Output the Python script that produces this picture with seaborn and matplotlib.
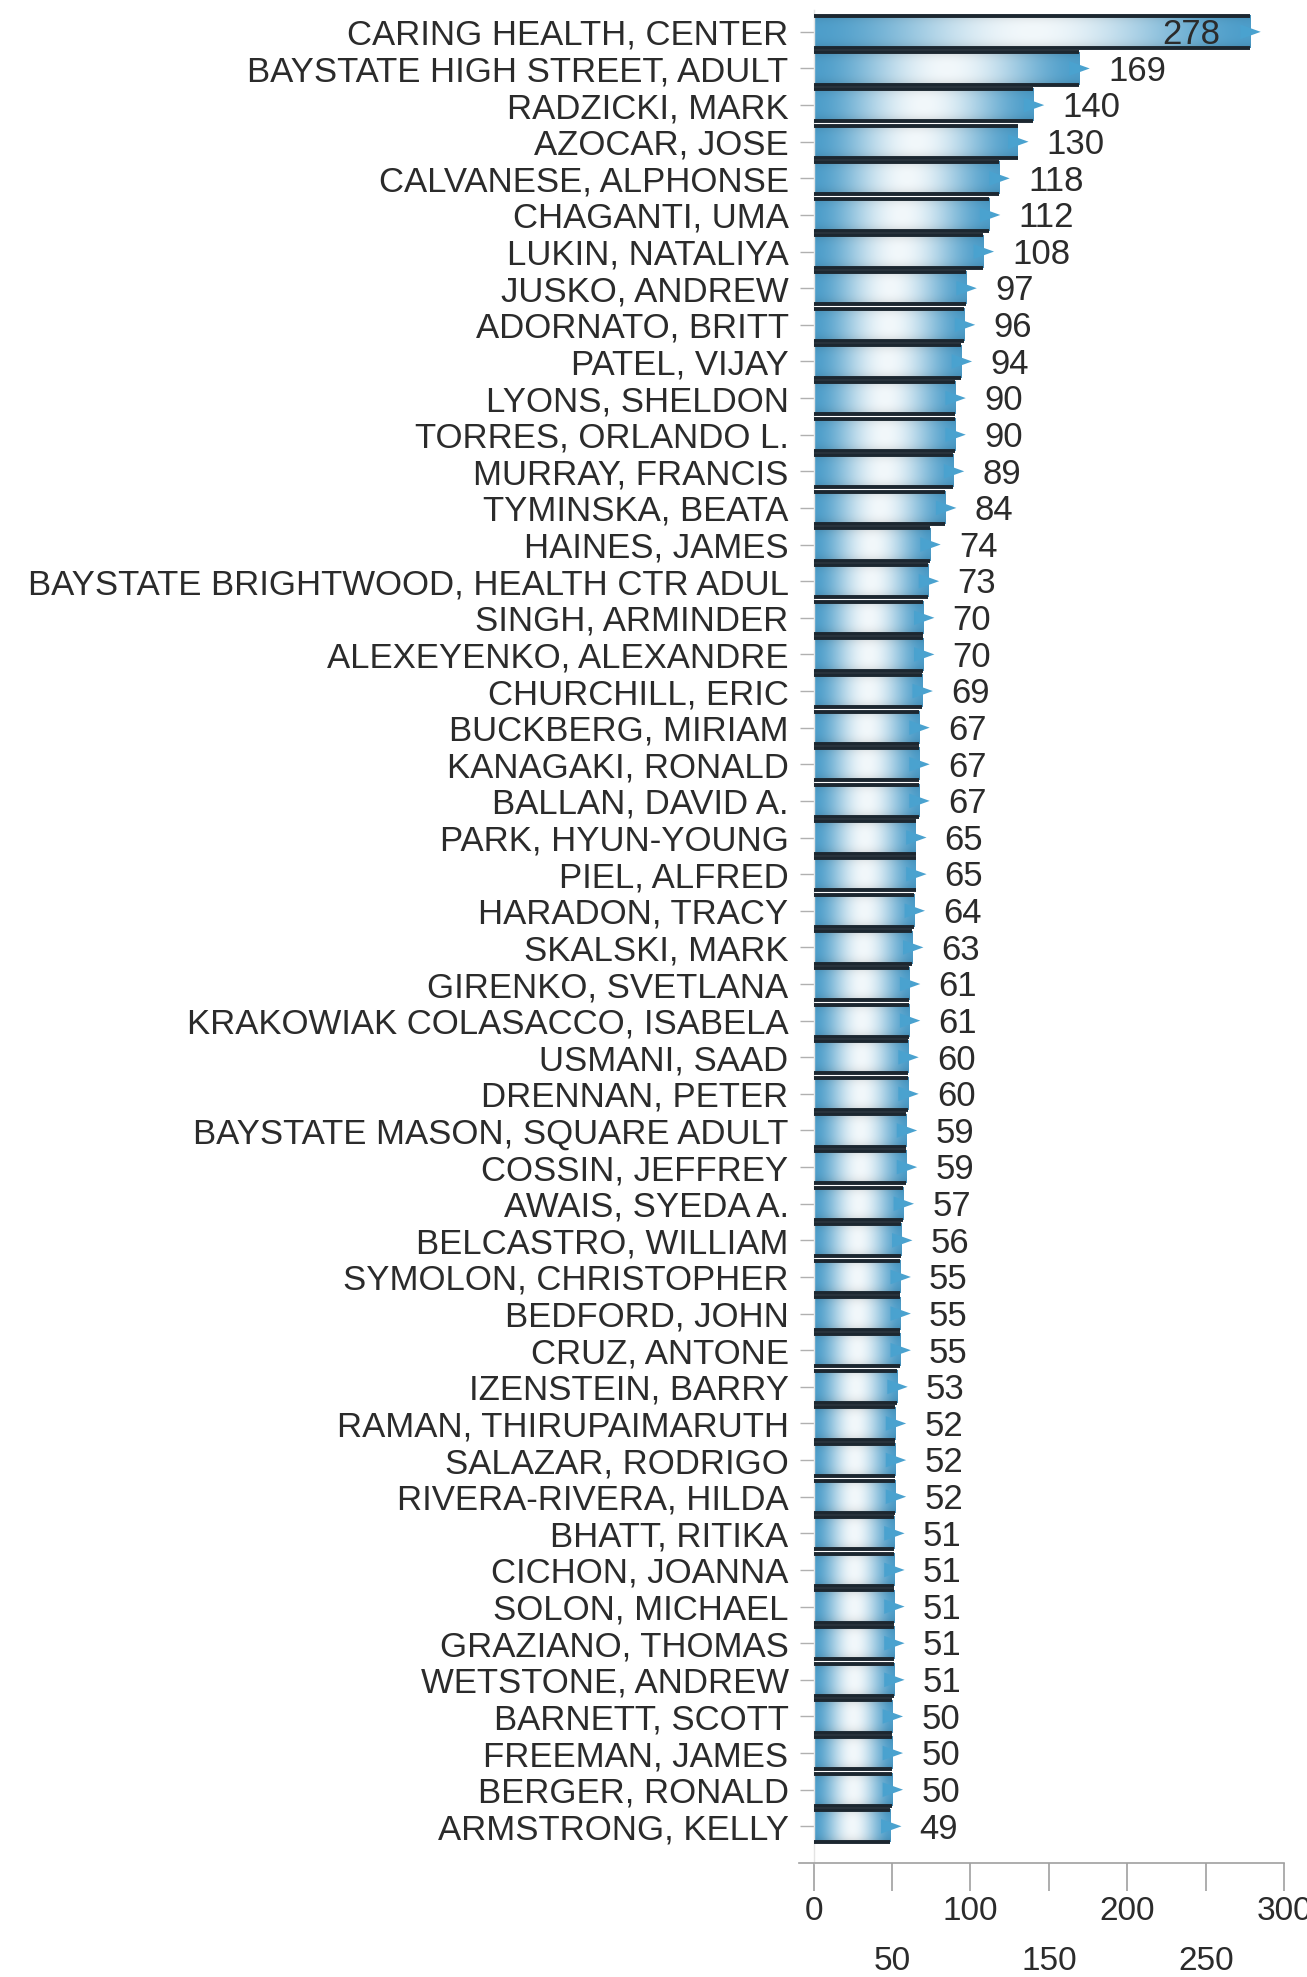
import numpy as np
import pandas as pd
import matplotlib
matplotlib.use("Agg")
import matplotlib.pyplot as plt
from matplotlib.patches import Polygon
import seaborn as sns

providers = [
    "CARING HEALTH, CENTER", "BAYSTATE HIGH STREET, ADULT", "RADZICKI, MARK",
    "AZOCAR, JOSE", "CALVANESE, ALPHONSE", "CHAGANTI, UMA", "LUKIN, NATALIYA",
    "JUSKO, ANDREW", "ADORNATO, BRITT", "PATEL, VIJAY", "LYONS, SHELDON",
    "TORRES, ORLANDO L.", "MURRAY, FRANCIS", "TYMINSKA, BEATA", "HAINES, JAMES",
    "BAYSTATE BRIGHTWOOD, HEALTH CTR ADUL", "SINGH, ARMINDER",
    "ALEXEYENKO, ALEXANDRE", "CHURCHILL, ERIC", "BUCKBERG, MIRIAM",
    "KANAGAKI, RONALD", "BALLAN, DAVID A.", "PARK, HYUN-YOUNG", "PIEL, ALFRED",
    "HARADON, TRACY", "SKALSKI, MARK", "GIRENKO, SVETLANA",
    "KRAKOWIAK COLASACCO, ISABELA", "USMANI, SAAD", "DRENNAN, PETER",
    "BAYSTATE MASON, SQUARE ADULT", "COSSIN, JEFFREY", "AWAIS, SYEDA A.",
    "BELCASTRO, WILLIAM", "SYMOLON, CHRISTOPHER", "BEDFORD, JOHN",
    "CRUZ, ANTONE", "IZENSTEIN, BARRY", "RAMAN, THIRUPAIMARUTH",
    "SALAZAR, RODRIGO", "RIVERA-RIVERA, HILDA", "BHATT, RITIKA",
    "CICHON, JOANNA", "SOLON, MICHAEL", "GRAZIANO, THOMAS", "WETSTONE, ANDREW",
    "BARNETT, SCOTT", "FREEMAN, JAMES", "BERGER, RONALD", "ARMSTRONG, KELLY",
]
visits = [
    278, 169, 140, 130, 118, 112, 108, 97, 96, 94, 90, 90, 89, 84, 74, 73, 70,
    70, 69, 67, 67, 67, 65, 65, 64, 63, 61, 61, 60, 60, 59, 59, 57, 56, 55, 55,
    55, 53, 52, 52, 52, 51, 51, 51, 51, 51, 50, 50, 50, 49,
]
x_ticks = [0, 50, 100, 150, 200, 250, 300]

sns.set_theme(style="white")
plt.rcParams["font.family"] = ["Liberation Sans", "DejaVu Sans"]

TEXT = "#2b2b2b"
FS = 25

fig = plt.figure(figsize=(13.07, 19.77), dpi=100)
ax = fig.add_axes([0.6225, 0.0577, 0.3601, 0.9373])

df = pd.DataFrame({"provider": providers, "visits": visits})
sns.barplot(data=df, y="provider", x="visits", orient="h", width=0.88,
            color="white", edgecolor="none", linewidth=0, ax=ax)

# cylinder-like shading: blue at both ends, pale in the middle
blue = np.array([78, 158, 202]) / 255
pale = np.array([242, 248, 251]) / 255
t = np.linspace(0, 1, 200)
wh = np.sin(np.pi * t) ** 1.8
v = np.linspace(-1, 1, 40)
shade = 1 - 0.12 * np.abs(v) ** 3
grad = (blue[None, None, :] * (1 - wh)[None, :, None]
        + pale[None, None, :] * wh[None, :, None]) * shade[:, None, None]
grad = np.clip(grad, 0, 1)

xmax = x_ticks[-1]
for patch, val in zip(ax.patches, visits):
    x0, y0 = patch.get_x(), patch.get_y()
    w, h = patch.get_width(), patch.get_height()
    yc = y0 + h / 2
    ax.imshow(grad, extent=[x0, x0 + w, y0 + h, y0], aspect="auto",
              interpolation="bilinear", zorder=2)
    ax.hlines([y0, y0 + h], x0, x0 + w, colors="#1c2730", linewidth=2.8,
              zorder=3)
    ax.add_patch(Polygon([[x0 + w - 6, yc - 0.2], [x0 + w + 7, yc],
                          [x0 + w - 6, yc + 0.2]], closed=True,
                         facecolor="#4aa2cf", edgecolor="none", zorder=4))
    if val + 30 > xmax:
        ax.annotate(f"{val}", xy=(x0 + w, yc), xytext=(-21, -2),
                    textcoords="offset points", ha="right", va="center",
                    fontsize=FS, color=TEXT, zorder=5)
    else:
        ax.annotate(f"{val}", xy=(x0 + w, yc), xytext=(21, -2),
                    textcoords="offset points", ha="left", va="center",
                    fontsize=FS, color=TEXT, zorder=5)

ax.set_xlim(0, 300)
ax.set_ylim(50.0, -0.6)
ax.set_xlabel("")
ax.set_ylabel("")

ax.set_xticks(x_ticks)
ax.set_xticklabels([str(x) for x in x_ticks])
ax.tick_params(axis="x", length=20, width=1.2, color="#a0a0a0",
               labelsize=24, labelcolor=TEXT, direction="out", bottom=True)
for i, tick in enumerate(ax.xaxis.get_major_ticks()):
    tick.set_pad(4 if i % 2 == 0 else 40)
ax.tick_params(axis="y", length=10, width=1.0, color="#b0b0b0",
               labelsize=FS, labelcolor=TEXT, pad=8, left=True)

for side in ["top", "right"]:
    ax.spines[side].set_visible(False)
ax.spines["left"].set_color("#e4e4e4")
ax.spines["left"].set_linewidth(1.0)
ax.spines["bottom"].set_color("#a0a0a0")
ax.spines["bottom"].set_linewidth(1.2)
ax.spines["bottom"].set_bounds(-9, 300)

fig.savefig("out.png", dpi=100, facecolor="white")
